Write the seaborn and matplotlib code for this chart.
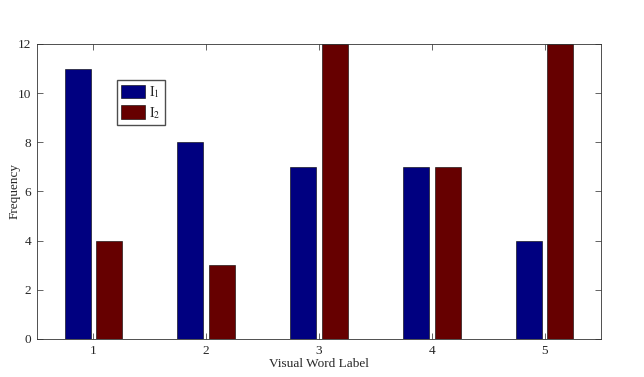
import pandas as pd
import seaborn as sns
import matplotlib.pyplot as plt

labels = ['1', '2', '3', '4', '5']
i1_freq = [11, 8, 7, 7, 4]
i2_freq = [4, 3, 12, 7, 12]

df = pd.DataFrame({
    'Label': labels * 2,
    'Frequency': i1_freq + i2_freq,
    'Image': [r'$\mathrm{I}_1$'] * 5 + [r'$\mathrm{I}_2$'] * 5,
})

sns.set_style('ticks')
plt.rcParams['font.family'] = ['Liberation Serif', 'DejaVu Serif']
plt.rcParams['mathtext.fontset'] = 'stix'

fig = plt.figure(figsize=(6.44, 3.77), dpi=100)
ax = fig.add_axes([0.0575, 0.1008, 0.8757, 0.7825])

sns.barplot(data=df, x='Label', y='Frequency', hue='Image',
            palette=['#000080', '#660000'], width=0.56, gap=0.18,
            edgecolor='black', linewidth=0.4, saturation=1, ax=ax)

ax.set_xlim(-0.5, 4.5)
ax.set_ylim(0, 12)
ax.set_yticks(range(0, 13, 2))
ax.set_xlabel('Visual Word Label', fontsize=9.5, labelpad=1)
ax.set_ylabel('Frequency', fontsize=9.5)
ax.yaxis.set_label_coords(-0.03, 0.5)
ax.tick_params(direction='in', top=True, right=True, labelsize=9.5, length=4, width=0.5, pad=4)
for s in ax.spines.values():
    s.set_visible(True)
    s.set_linewidth(0.6)
    s.set_color('0.2')

ax.legend(loc='upper left', bbox_to_anchor=(0.142, 0.878), borderaxespad=0,
          fontsize=10, frameon=True, fancybox=False, edgecolor='0.3', framealpha=1,
          handlelength=1.7, handleheight=1.1, handletextpad=0.3,
          borderpad=0.3, labelspacing=0.35, title=None)

plt.savefig('out.png', dpi=100)
plt.close()
